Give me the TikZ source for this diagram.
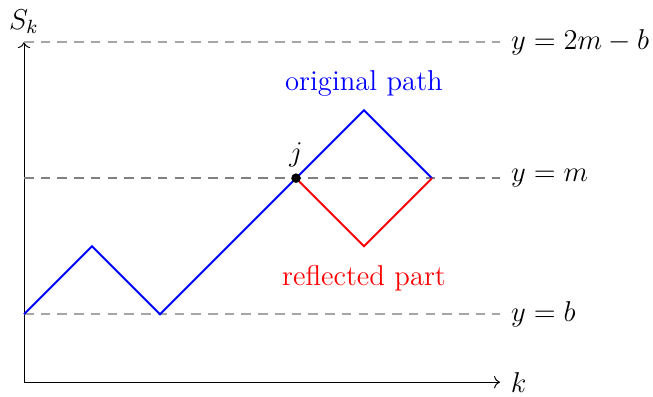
\documentclass[tikz,border=0pt]{standalone}
\usetikzlibrary{arrows.meta,positioning}

\begin{document}
\begin{tikzpicture}[font=\large,
    level/.style={semithick,dash pattern=on 4pt off 3pt,gray!70},
    levelm/.style={semithick,dash pattern=on 4pt off 3pt,gray},
    walk/.style={blue,thick},
    mirror/.style={red,thick}]
    \useasboundingbox (-0.353,-0.206) rectangle (9.25,5.62);
    % axes
    \coordinate (O) at (0,0);
    \coordinate (xend) at (7,0);
    \coordinate (yend) at (0,5);
    \draw[->] (O) -- (xend) node[right=1pt] (klab) {$k$};
    \draw[->] (O) -- (yend) node[above] (slab) {$S_k$};
    % levels
    \coordinate (b0) at (0,1);  \coordinate (b1) at (7,1);
    \coordinate (m0) at (0,3);  \coordinate (m1) at (7,3);
    \coordinate (t0) at (0,5);  \coordinate (t1) at (7,5);
    \draw[level] (b0) -- (b1) node[right=1pt,text=black] (blab) {$y=b$};
    \draw[levelm] (m0) -- (m1) node[right=1pt,text=black] (mlab) {$y=m$};
    \draw[level] (t0) -- (t1) node[right=1pt,text=black] (tlab) {$y=2m-b$};
    % path
    \coordinate (p0) at (0,1);
    \coordinate (p1) at (1,2);
    \coordinate (p2) at (2,1);
    \coordinate (j) at (4,3);
    \coordinate (p4) at (5,4);
    \coordinate (p5) at (6,3);
    \coordinate (r4) at (5,2);
    \draw[walk] (p0) -- (p1) -- (p2) -- (j) -- (p4) -- (p5);
    \draw[mirror] (j) -- (r4) -- (p5);
    \fill (j) circle (2pt);
    \node[above=1pt of j] (jlab) {$j$};
    \node[blue,above=0.08cm of p4] (olab) {original path};
    \node[red,below=0.16cm of r4] (rlab) {reflected part};
\end{tikzpicture}
\end{document}
